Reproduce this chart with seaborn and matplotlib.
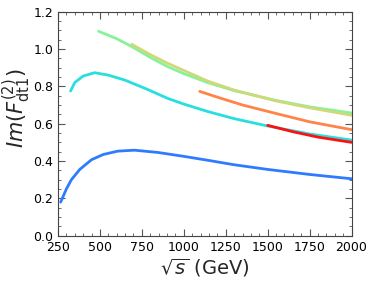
import matplotlib
matplotlib.use("Agg")
import matplotlib.pyplot as plt
import numpy as np
import pandas as pd
import seaborn as sns
from matplotlib.ticker import AutoMinorLocator

# curves (sqrt(s) in GeV, Im F)
blue_x = [266, 300, 330, 380, 450, 520, 607, 706, 845, 1000, 1143, 1300, 1500, 1750, 2000]
blue_y = [0.18, 0.25, 0.30, 0.355, 0.407, 0.435, 0.453, 0.458, 0.446, 0.425, 0.404, 0.38, 0.355, 0.328, 0.305]

cyan_x = [325, 350, 400, 468, 550, 647, 780, 905, 1000, 1143, 1300, 1492, 1750, 2000]
cyan_y = [0.775, 0.82, 0.855, 0.873, 0.86, 0.834, 0.785, 0.735, 0.705, 0.665, 0.627, 0.589, 0.545, 0.512]

green_x = [492, 600, 696, 800, 905, 1000, 1143, 1300, 1548, 1750, 2000]
green_y = [1.095, 1.055, 1.01, 0.955, 0.905, 0.868, 0.82, 0.777, 0.725, 0.69, 0.657]

olive_x = [690, 800, 905, 1000, 1143, 1300, 1548, 1750, 2000]
olive_y = [1.025, 0.97, 0.923, 0.885, 0.828, 0.78, 0.722, 0.685, 0.645]

orange_x = [1095, 1200, 1350, 1548, 1750, 2000]
orange_y = [0.773, 0.742, 0.70, 0.655, 0.61, 0.568]

red_x = [1500, 1650, 1800, 2000]
red_y = [0.591, 0.557, 0.528, 0.50]

x_ticks = [250, 500, 750, 1000, 1250, 1500, 1750, 2000]
y_ticks = [0.0, 0.2, 0.4, 0.6, 0.8, 1.0, 1.2]


def main():
    sns.set_theme(style="ticks")
    plt.rcParams["font.family"] = ["DejaVu Sans"]
    plt.rcParams["mathtext.fontset"] = "dejavusans"

    fig, ax = plt.subplots(figsize=(3.74, 2.91), dpi=100)
    fig.subplots_adjust(left=0.155, right=0.94, top=0.96, bottom=0.19)

    curves = [
        (blue_x, blue_y, "#2f7bff"),
        (cyan_x, cyan_y, "#28dede"),
        (green_x, green_y, "#86f29a"),
        (olive_x, olive_y, "#cfd97a"),
        (orange_x, orange_y, "#ff8448"),
        (red_x, red_y, "#ff1010"),
    ]
    for xs, ys, col in curves:
        df = pd.DataFrame({"x": xs, "y": ys})
        sns.lineplot(data=df, x="x", y="y", color=col, lw=2.0, ax=ax)

    ax.set_xlim(250, 2000)
    ax.set_ylim(0.0, 1.2)
    ax.set_xticks(x_ticks)
    ax.set_yticks(y_ticks)
    ax.set_yticklabels([f"{v:.1f}" for v in y_ticks])
    ax.xaxis.set_minor_locator(AutoMinorLocator(5))
    ax.yaxis.set_minor_locator(AutoMinorLocator(4))
    ax.tick_params(which="both", direction="in", top=True, right=True,
                   labelsize=9, colors="#555555", labelcolor="black")
    ax.tick_params(which="major", length=5, width=0.8)
    ax.tick_params(which="minor", length=2.5, width=0.6)
    for sp in ax.spines.values():
        sp.set_color("#444444")
        sp.set_linewidth(0.8)

    ax.set_xlabel(r"$\sqrt{s}$ (GeV)", fontsize=14, labelpad=2)
    ax.set_ylabel(r"$Im(F^{(2)}_{\rm dt1})$", fontsize=15)
    ax.yaxis.set_label_coords(-0.086, 0.57)

    fig.savefig("out.png", dpi=100)
    plt.close(fig)


if __name__ == "__main__":
    main()
